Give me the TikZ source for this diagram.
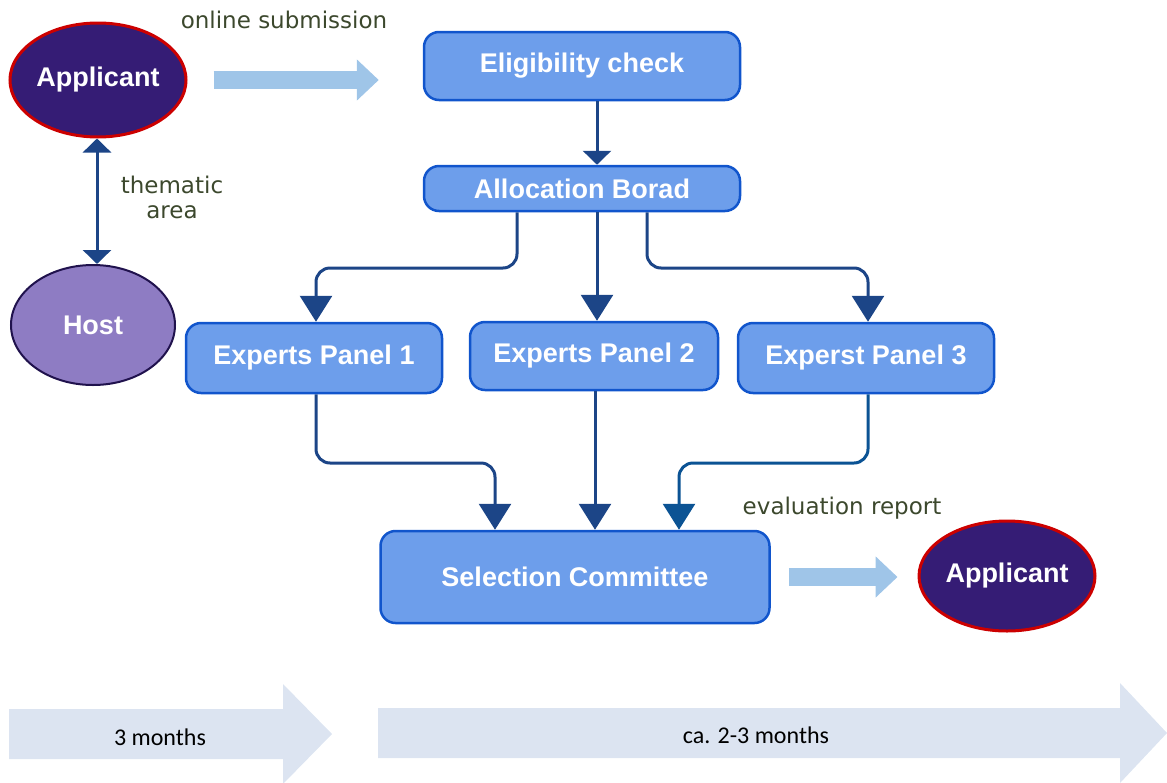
\documentclass[tikz,border=0pt]{standalone}
\usepackage{fontspec}
\setmainfont{Liberation Sans}
\newfontfamily\notefont{DejaVu Sans}
\newfontfamily\timefont{Carlito}
\usetikzlibrary{arrows.meta,shapes.geometric}

\definecolor{boxfill}{HTML}{6D9EEB}
\definecolor{boxline}{HTML}{1155CC}
\definecolor{linkblue}{HTML}{1C4587}
\definecolor{linkteal}{HTML}{0B5394}
\definecolor{appfill}{HTML}{351C75}
\definecolor{appline}{HTML}{CC0000}
\definecolor{hostfill}{HTML}{8E7CC3}
\definecolor{hostline}{HTML}{20124D}
\definecolor{flowblue}{HTML}{9FC5E8}
\definecolor{notegreen}{HTML}{3C482D}
\definecolor{timeblue}{HTML}{DCE4F1}

\tikzset{
	stage/.style={draw=boxline, line width=2.5pt, fill=boxfill, rounded corners=15pt,
		text=white, font=\fontsize{27}{32}\selectfont\bfseries, inner sep=0pt},
	person/.style={ellipse, line width=3pt, inner sep=0pt, text=white,
		font=\fontsize{27}{32}\selectfont\bfseries},
	link/.style={draw=linkblue, line width=3pt, rounded corners=14pt,
		-{Triangle[width=32pt,length=26pt]}},
	shortlink/.style={draw=linkblue, line width=3pt,
		-{Triangle[width=28pt,length=14pt]}},
	flow/.style={draw=flowblue, line width=18pt, line cap=butt,
		-{Triangle[width=40pt,length=22pt]}},
	note/.style={text=notegreen, font=\notefont\fontsize{23}{25}\selectfont, align=center},
	timebar/.style={fill=timeblue},
	timetext/.style={font=\timefont\fontsize{24}{27}\selectfont}
}

\begin{document}
\begin{tikzpicture}[x=1pt,y=-1pt]
	\useasboundingbox (0,0) rectangle (1167,782);
	
	% Time line
	\fill[timebar] (9,709) -- (283,709) -- (283,684) -- (332,734) -- (283,784) -- (283,759) -- (9,759) -- cycle;
	\fill[timebar] (378,708) -- (1120,708) -- (1120,683) -- (1167,733) -- (1120,783) -- (1120,758) -- (378,758) -- cycle;
	\node[timetext] (t1) at (160,737) {3 months};
	\node[timetext] (t2) at (756,735) {ca. 2-3 months};
	
	% People
	\node[person, draw=appline, fill=appfill, minimum width=176pt, minimum height=114pt] (app1) at (98,80) {Applicant};
	\node[person, draw=hostline, line width=2pt, fill=hostfill, minimum width=164pt, minimum height=120pt] (host) at (93,325) {Host};
	\node[person, draw=appline, fill=appfill, minimum width=176pt, minimum height=110pt] (app2) at (1007,576) {Applicant};
	
	% Boxes
	\node[stage, minimum width=316pt, minimum height=68pt] (elig) at (582,66) {Eligibility check};
	\node[stage, minimum width=316pt, minimum height=45pt] (alloc) at (582,188.5) {Allocation Borad};
	\node[stage, minimum width=256pt, minimum height=70pt] (p1) at (314,358) {Experts Panel 1};
	\node[stage, minimum width=248pt, minimum height=68pt] (p2) at (594,356) {Experts Panel 2};
	\node[stage, minimum width=256pt, minimum height=70pt] (p3) at (866,358) {Experst Panel 3};
	\node[stage, minimum width=389pt, minimum height=92pt] (sel) at (575,577) {Selection Committee};
	
	% Labels
	\node[note] (l1) at (284,20) {online submission};
	\node[note] (l2) at (172,197) {thematic\\area};
	\node[note] (l3) at (842,508) {evaluation report};
	
	% Lines
	\coordinate (ja) at (0,268);
	\coordinate (jb) at (0,463);
	\draw[flow] ([xshift=26pt]app1.east) -- ([xshift=-44pt]elig.west |- app1.east);
	\draw[flow] ([xshift=18pt]sel.east) -- ([xshift=-20pt]app2.west |- sel.east);
	\draw[shortlink, {Triangle[width=28pt,length=14pt]}-{Triangle[width=28pt,length=14pt]}] ([xshift=-1pt]app1.south) -- ([xshift=-1pt]app1.south |- host.north);
	\draw[shortlink] ([xshift=15pt]elig.south) -- ([xshift=15pt]alloc.north);
	
	\draw[link] ([xshift=-65pt]alloc.south) |- ([xshift=2pt]ja -| p1.north) -- ([xshift=2pt]p1.north);
	\draw[link] ([xshift=15pt]alloc.south) -- ([xshift=3pt]p2.north);
	\draw[link] ([xshift=65pt]alloc.south) |- ([xshift=2pt]ja -| p3.north) -- ([xshift=2pt]p3.north);
	
	\draw[link] ([xshift=2pt]p1.south) |- ([xshift=-80pt]jb -| sel.north) -- ([xshift=-80pt]sel.north);
	\draw[link] ([xshift=1pt]p2.south) -- ([xshift=20pt]sel.north);
	\draw[link, draw=linkteal] ([xshift=2pt]p3.south) |- ([xshift=104pt]jb -| sel.north) -- ([xshift=104pt]sel.north);
\end{tikzpicture}
\end{document}
